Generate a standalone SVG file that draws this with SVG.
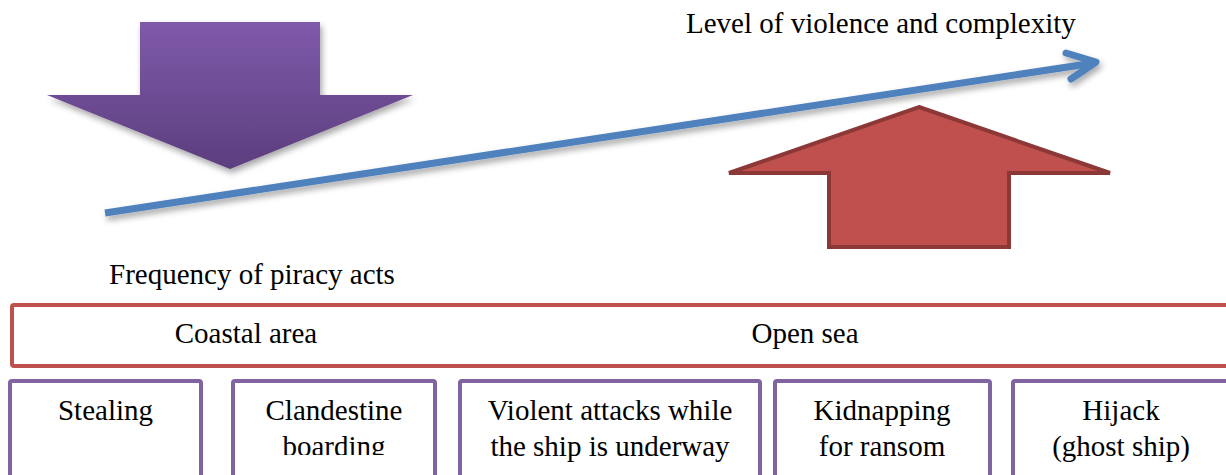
<svg xmlns="http://www.w3.org/2000/svg" width="1226" height="475" viewBox="0 0 1226 475">
<style>
text{font-family:"Liberation Serif","Times New Roman",serif;font-size:29px;fill:#000;text-anchor:middle}
.lbl{text-anchor:start}
.cat{fill:#fff;stroke:#8064A2;stroke-width:4}
.zone{fill:#fff;stroke:#C0504D;stroke-width:4}
</style>
<defs>
<linearGradient id="pg" x1="0" y1="0" x2="0" y2="1">
<stop offset="0" stop-color="#7F5AAA"/>
<stop offset="1" stop-color="#5C3E7E"/>
</linearGradient>
<filter id="sh" x="-10%" y="-30%" width="120%" height="160%">
<feDropShadow dx="2" dy="4" stdDeviation="3" flood-color="#000" flood-opacity="0.35"/>
</filter>
<clipPath id="c2"><rect x="231" y="379" width="206" height="76"/></clipPath>
</defs>
<g id="freq-arrow">
<polygon points="140,22 320,22 320,95 413,95 230,169 47,95 140,95" fill="url(#pg)" filter="url(#sh)"/>
</g>
<g id="violence-arrow">
<polygon points="919,107 1110,173 1009,173 1009,247 829,247 829,173 729,173" fill="#C0504D" stroke="#8C3836" stroke-width="4" stroke-linejoin="miter"/>
</g>
<g id="connectors">
<g filter="url(#sh)" stroke="#4F81BD" stroke-width="7" fill="none" stroke-linecap="round" stroke-linejoin="round">
<line x1="105" y1="213" x2="1094" y2="63" stroke-linecap="butt"/>
<polyline points="1066,53 1096,62 1071,79"/>
</g>
</g>
<g id="label-level"><text class="lbl" x="686" y="33">Level of violence and complexity</text></g>
<g id="label-freq"><text class="lbl" x="109" y="284">Frequency of piracy acts</text></g>
<g id="zones">
<rect class="zone" x="12" y="305" width="1225" height="61" rx="2"/>
<text x="246" y="343">Coastal area</text>
<text x="805" y="343">Open sea</text>
</g>
<g id="stealing">
<rect class="cat" x="10" y="381" width="191" height="100" rx="2"/>
<text x="105.5" y="420">Stealing</text>
</g>
<g id="clandestine">
<rect class="cat" x="233" y="381" width="202" height="100" rx="2"/>
<g clip-path="url(#c2)"><text x="334" y="420">Clandestine</text><text x="334" y="456">boarding</text></g>
</g>
<g id="violent">
<rect class="cat" x="460" y="381" width="300" height="100" rx="2"/>
<text x="610" y="420">Violent attacks while</text>
<text x="610" y="456">the ship is underway</text>
</g>
<g id="kidnapping">
<rect class="cat" x="775" y="381" width="215" height="100" rx="2"/>
<text x="882" y="420">Kidnapping</text>
<text x="882" y="456">for ransom</text>
</g>
<g id="hijack">
<rect class="cat" x="1013" y="381" width="216" height="100" rx="2"/>
<text x="1121" y="420">Hijack</text>
<text x="1121" y="456">(ghost ship)</text>
</g>
</svg>
